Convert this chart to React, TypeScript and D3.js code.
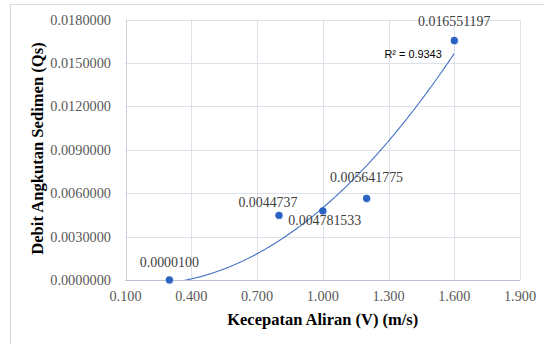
import React from "react";
import * as d3 from "d3";

// ---- data ----
const velocities = [0.3, 0.8, 1.0, 1.2, 1.6];
const sediment = [0.00001, 0.0044737, 0.004781533, 0.005641775, 0.016551197];
const pointLabels = ["0.0000100", "0.0044737", "0.004781533", "0.005641775", "0.016551197"];
const xTicks = [0.1, 0.4, 0.7, 1.0, 1.3, 1.6, 1.9];
const yTicks = [0, 0.003, 0.006, 0.009, 0.012, 0.015, 0.018];
const rSquaredText = "R² = 0.9343";
const xTitle = "Kecepatan Aliran (V) (m/s)";
const yTitle = "Debit Angkutan Sedimen (Qs)";

// label offsets (layout only)
const labelOffsets: [number, number][] = [
  [0, -13],
  [-11, -8],
  [2, 14],
  [0, -16],
  [0, -14],
];

const W = 544;
const H = 344;
const plot = { left: 125.5, right: 520, top: 19.5, bottom: 280 };

// quadratic trendline with intercept = 0 : y = a x^2 + b x
function fitQuadNoIntercept(xs: number[], ys: number[]) {
  let s2 = 0, s3 = 0, s4 = 0, sxy = 0, sx2y = 0;
  xs.forEach((x, i) => {
    const y = ys[i];
    s2 += x * x;
    s3 += x * x * x;
    s4 += x * x * x * x;
    sxy += x * y;
    sx2y += x * x * y;
  });
  const det = s2 * s4 - s3 * s3;
  const b = (sxy * s4 - s3 * sx2y) / det;
  const a = (s2 * sx2y - s3 * sxy) / det;
  return (x: number) => a * x * x + b * x;
}

export default function App() {
  const x = d3.scaleLinear().domain([0.1, 1.9]).range([plot.left, plot.right]);
  const y = d3.scaleLinear().domain([0, 0.018]).range([plot.bottom, plot.top]);
  const f = fitQuadNoIntercept(velocities, sediment);
  const x0 = d3.min(velocities)!;
  const x1 = d3.max(velocities)!;
  const trendPts = d3.range(0, 201).map((i) => {
    const xv = x0 + ((x1 - x0) * i) / 200;
    return [xv, f(xv)] as [number, number];
  });
  const line = d3
    .line<[number, number]>()
    .x((d) => x(d[0]))
    .y((d) => y(d[1]))
    .curve(d3.curveLinear);

  const serif = "'Liberation Serif', 'Times New Roman', serif";
  const gridColor = "#DCE1EA";

  return (
    <svg
      width={W}
      height={H}
      style={{ position: "absolute", left: 0, top: 0, background: "#fff" }}
    >
      <defs>
        <clipPath id="plotClip">
          <rect
            x={plot.left}
            y={plot.top}
            width={plot.right - plot.left}
            height={plot.bottom - plot.top}
          />
        </clipPath>
      </defs>
      {/* chart frame */}
      <rect x={10.5} y={4.5} width={W} height={H} fill="#fff" stroke="#D9D9D9" strokeWidth={1} />

      {/* gridlines */}
      {yTicks.map((t) => (
        <line
          key={"gy" + t}
          x1={plot.left}
          x2={plot.right}
          y1={Math.round(y(t)) + 0.5}
          y2={Math.round(y(t)) + 0.5}
          stroke={t === 0 ? "#B9C3D3" : gridColor}
          strokeWidth={1}
        />
      ))}
      {xTicks.map((t) => (
        <line
          key={"gx" + t}
          x1={Math.round(x(t)) + 0.5}
          x2={Math.round(x(t)) + 0.5}
          y1={plot.top}
          y2={plot.bottom}
          stroke={t === 0.1 ? "#CDD4E0" : gridColor}
          strokeWidth={1}
        />
      ))}
      <line
        x1={plot.left}
        x2={plot.right}
        y1={Math.round(y(0)) + 0.5}
        y2={Math.round(y(0)) + 0.5}
        stroke="#B9C3D3"
        strokeWidth={1}
      />

      {/* y tick labels */}
      {yTicks.map((t) => (
        <text
          key={"ty" + t}
          x={111}
          y={y(t)}
          dy="0.35em"
          textAnchor="end"
          fontFamily={serif}
          fontSize={14.3}
          fill="#595959"
        >
          {d3.format(".7f")(t)}
        </text>
      ))}
      {/* x tick labels */}
      {xTicks.map((t) => (
        <text
          key={"tx" + t}
          x={x(t)}
          y={301}
          textAnchor="middle"
          fontFamily={serif}
          fontSize={14.3}
          fill="#595959"
        >
          {d3.format(".3f")(t)}
        </text>
      ))}

      {/* trendline */}
      <path
        d={line(trendPts) || ""}
        fill="none"
        stroke="#4472C4"
        strokeWidth={1.1}
        clipPath="url(#plotClip)"
      />

      {/* points */}
      {velocities.map((v, i) => (
        <g key={"p" + i}>
          <circle cx={x(v) + 0.6} cy={y(sediment[i]) + 0.8} r={3.8} fill="#9DB0D6" opacity={0.5} />
          <circle cx={x(v)} cy={y(sediment[i])} r={3.6} fill="#2A62C4" />
        </g>
      ))}

      {/* data labels */}
      {velocities.map((v, i) => (
        <text
          key={"l" + i}
          x={x(v) + labelOffsets[i][0]}
          y={y(sediment[i]) + labelOffsets[i][1]}
          textAnchor="middle"
          fontFamily={serif}
          fontSize={13.9}
          fill="#404040"
        >
          {pointLabels[i]}
        </text>
      ))}

      {/* R squared */}
      <text
        x={384.5}
        y={58}
        fontFamily="'Liberation Sans', Arial, sans-serif"
        fontSize={10.9}
        fill="#000"
      >
        {rSquaredText}
      </text>

      {/* axis titles */}
      <text
        x={(plot.left + plot.right) / 2}
        y={325}
        textAnchor="middle"
        fontFamily={serif}
        fontWeight="bold"
        fontSize={16.5}
        fill="#000"
      >
        {xTitle}
      </text>
      <text
        transform={`translate(43, 148.5) rotate(-90)`}
        textAnchor="middle"
        fontFamily={serif}
        fontWeight="bold"
        fontSize={16.6}
        fill="#000"
      >
        {yTitle}
      </text>
    </svg>
  );
}
